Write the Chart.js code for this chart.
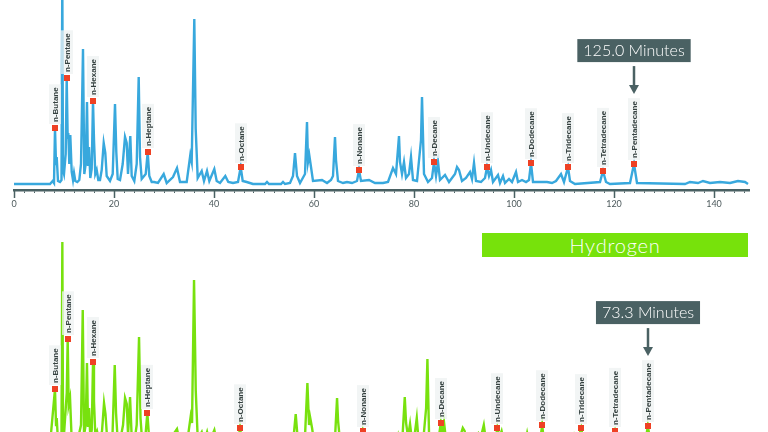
<!DOCTYPE html>
<html>
<head>
<meta charset="utf-8">
<script src="https://cdn.jsdelivr.net/npm/chart.js@4"></script>
<style>
  html, body { margin: 0; padding: 0; width: 768px; height: 432px; overflow: hidden; background: #fff; }
  canvas { position: absolute; left: 0; }
  #helium { top: 0; }
  #hydrogen { top: 236px; }
  .banner {
    position: absolute; left: 482px; top: 233px; width: 266px; height: 24px;
    background: #77e20b; color: #fff; font: 300 20px Lato, sans-serif; letter-spacing: 0.8px;
    text-align: center; line-height: 24px; z-index: 2;
  }
</style>
</head>
<body>
<canvas id="helium" width="768" height="209"></canvas>
<canvas id="hydrogen" width="768" height="234"></canvas>
<div class="banner">Hydrogen</div>
<script>
const SLATE = '#4a6163';
const RED = '#ee4124';
const LABEL = '#34403f';

const compounds = ['n-Butane', 'n-Pentane', 'n-Hexane', 'n-Heptane', 'n-Octane', 'n-Nonane',
  'n-Decane', 'n-Undecane', 'n-Dodecane', 'n-Tridecane', 'n-Tetradecane', 'n-Pentadecane'];

// helium run (minutes / detector signal)
const heliumTime = [
  0, 7.2, 7.74, 8.0, 8.2, 8.4, 8.54, 8.8, 9.2, 9.5,
  9.66, 9.8, 10.0, 10.34, 10.54, 10.74, 10.86, 11.06, 11.26, 11.54,
  11.8, 12.0, 12.26, 12.66, 13.06, 13.4, 13.8, 14.06, 14.34, 14.6,
  14.8, 15.0, 15.26, 15.54, 15.8, 16.0, 16.26, 16.54, 16.86, 17.2,
  17.54, 17.94, 18.26, 18.54, 19.2, 19.74, 20.2, 20.46, 20.74, 21.2,
  21.74, 22.2, 22.54, 22.8, 23.26, 23.54, 24.06, 24.54, 24.94, 25.2,
  25.54, 26.34, 26.74, 27.06, 27.54, 28.0, 28.8, 29.94, 30.54, 31.8,
  32.6, 33.2, 34.54, 35.26, 35.54, 36.06, 36.34, 36.74, 37.54, 38.0,
  38.6, 39.06, 40.06, 40.54, 41.2, 42.26, 42.86, 43.8, 44.8, 45.34,
  45.74, 46.54, 47.8, 50.2, 50.6, 51.0, 53.4, 53.8, 54.2, 55.2,
  55.8, 56.2, 56.6, 57.2, 58.2, 58.6, 58.8, 59.05, 59.4, 59.8,
  61.6, 62.6, 63.4, 63.8, 64.2, 64.4, 64.8, 65.8, 66.6, 67.6,
  68.6, 69.0, 69.4, 71.0, 72.2, 73.8, 74.8, 75.8, 76.4, 77.0,
  77.2, 77.6, 78.0, 78.4, 79.0, 79.4, 79.8, 80.6, 81.4, 81.6,
  82.0, 82.8, 83.6, 84.0, 84.4, 84.8, 85.2, 86.2, 87.0, 88.2,
  88.6, 89.0, 89.6, 90.4, 91.2, 91.6, 92.0, 92.4, 93.4, 94.2,
  94.6, 95.0, 95.4, 95.8, 96.8, 97.2, 97.8, 98.2, 99.0, 99.6,
  100.4, 100.8, 101.6, 102.4, 103.0, 103.4, 103.8, 105.2, 106.6, 107.6,
  108.4, 109.4, 110.0, 110.8, 111.2, 112.2, 117.2, 117.8, 118.4, 119.2,
  123.2, 124.0, 124.6, 134.2, 135.2, 136.8, 137.8, 139.2, 141.2, 143.2,
  144.8, 146.2, 146.8
];
const heliumSignal = [
  0, 0, 3, 1, 56, 20, 27, 3, 2, 4,
  205, 14, 10, 30, 106, 45, 51, 20, 49, 12,
  4, 11, 3, 2, 4, 20, 135, 10, 20, 82,
  18, 37, 6, 15, 83, 44, 10, 14, 4, 4,
  14, 41, 31, 8, 3, 10, 80, 32, 5, 4,
  20, 47, 41, 10, 48, 8, 3, 20, 107, 27,
  5, 10, 32, 8, 2, 2, 1, 10, 1, 7,
  16, 2, 2, 29, 22, 165, 55, 6, 13, 3,
  13, 3, 15, 3, 1, 8, 2, 1, 2, 17,
  3, 2, 0, 0, 2, 0, 0, 2, 0, 1,
  8, 31, 8, 1, 10, 62, 22, 29, 17, 3,
  4, 1, 4, 8, 47, 24, 3, 1, 2, 1,
  3, 14, 3, 4, 1, 1, 2, 16, 10, 48,
  22, 10, 22, 6, 10, 27, 4, 3, 44, 87,
  10, 2, 6, 22, 8, 22, 4, 9, 2, 10,
  17, 14, 3, 6, 12, 5, 21, 3, 2, 6,
  17, 8, 14, 2, 9, 1, 8, 1, 5, 2,
  12, 2, 4, 2, 4, 21, 2, 2, 2, 1,
  3, 10, 2, 17, 3, 0, 2, 13, 2, 0,
  1, 20, 1, 0, 2, 1, 3, 1, 2, 1,
  3, 2, 0
];
const heliumPeakTimes = [8.2, 10.54, 15.8, 26.74, 45.34, 69.0, 84.0, 94.6, 103.4, 110.8, 117.8, 124.0];
const heliumPeakHeights = [56, 106, 83, 32, 17, 14, 22, 17, 21, 17, 13, 20];
const heliumTicks = [0, 20, 40, 60, 80, 100, 120, 140];
const heliumRunTime = '125.0 Minutes';

// hydrogen run
const hydrogenTime = [
  0, 4.16, 4.74, 4.86, 4.94, 5.09, 5.49, 5.59, 5.67, 5.78,
  6.10, 6.21, 6.32, 6.48, 6.65, 6.94, 7.29, 7.75, 7.95, 8.10,
  8.29, 8.44, 8.56, 8.68, 8.83, 8.99, 9.14, 9.25, 9.40, 9.60,
  9.83, 10.18, 10.41, 10.58, 10.76, 11.10, 11.39, 11.65, 11.80, 11.99,
  12.26, 12.61, 12.84, 13.04, 13.19, 13.42, 13.61, 13.92, 14.19, 14.46,
  14.63, 14.81, 15.21, 15.42, 15.62, 15.96, 17.35, 17.66, 18.85, 19.20,
  20.01, 20.44, 20.59, 20.82, 21.02, 21.25, 21.71, 21.98, 22.33, 22.59,
  23.17, 23.45, 24.44, 24.79, 25.9, 26.14, 26.37, 27.65, 32.1, 32.33,
  32.58, 32.79, 33.08, 33.66, 33.93, 34.12, 34.24, 34.47, 34.70, 35.74,
  36.9, 37.13, 37.36, 37.48, 37.71, 40.0, 40.14, 40.34, 40.60, 41.64,
  44.30, 44.45, 44.65, 44.94, 45.19, 45.34, 45.57, 45.80, 46.03, 46.33,
  46.58, 46.79, 47.31, 47.66, 47.81, 48.00, 49.10, 49.36, 49.57, 49.74,
  49.97, 51.65, 51.90, 52.11, 52.41, 53.68, 53.91, 54.33, 54.60, 55.69,
  55.90, 56.16, 56.39, 56.68, 59.1, 59.34, 59.57, 60.85, 61.08, 61.31,
  64.5, 64.78, 65.13, 65.59, 65.88, 69.23, 69.52, 69.87, 72.99, 73.30,
  73.63, 85
];
const hydrogenSignal = [
  0, 0, 56, 20, 27, 3, 4, 203, 14, 10,
  52, 106, 40, 47, 10, 11, 2, 20, 135, 10,
  20, 82, 18, 37, 6, 15, 83, 44, 10, 14,
  4, 14, 42, 31, 8, 3, 10, 80, 32, 5,
  4, 20, 47, 41, 10, 48, 8, 3, 20, 108,
  27, 5, 10, 32, 8, 2, 10, 1, 16, 2,
  2, 29, 22, 165, 54, 6, 13, 3, 13, 3,
  15, 3, 8, 2, 2, 17, 3, 0, 1, 8,
  31, 8, 1, 10, 62, 20, 28, 17, 3, 4,
  2, 8, 47, 24, 3, 1, 3, 14, 3, 4,
  4, 10, 4, 10, 48, 22, 8, 21, 4, 10,
  27, 4, 3, 37, 86, 10, 6, 22, 8, 22,
  4, 10, 17, 14, 3, 12, 5, 20, 3, 6,
  17, 8, 14, 2, 2, 12, 2, 4, 20, 2,
  2, 10, 2, 17, 3, 2, 14, 2, 1, 19,
  1, 0
];
const hydrogenPeakTimes = [4.74, 6.21, 9.14, 15.42, 26.14, 40.34, 49.36, 55.90, 61.08, 65.59, 69.52, 73.30];
const hydrogenPeakHeights = [56, 106, 83, 32, 17, 14, 22, 17, 20, 17, 14, 19];
const hydrogenTicks = [0, 10, 20, 30, 40, 50, 60, 70, 80];
const hydrogenRunTime = '73.3 Minutes';

// longer tick marks at the labelled values
function majorTicks(values) {
  return {
    id: 'majorTicks',
    afterDraw(chart) {
      const { ctx, chartArea, scales: { x } } = chart;
      ctx.save();
      ctx.strokeStyle = SLATE;
      ctx.lineWidth = 1.5;
      values.forEach((v) => {
        const px = Math.round(x.getPixelForValue(v)) + 0.5;
        ctx.beginPath();
        ctx.moveTo(px, chartArea.bottom);
        ctx.lineTo(px, chartArea.bottom + 8);
        ctx.stroke();
      });
      ctx.restore();
    },
  };
}

// compound names, red peak markers and the run-time callout
function peakLabels(times, heights, runTime) {
  return {
    id: 'peakLabels',
    afterDatasetsDraw(chart) {
      const { ctx, scales: { x, y } } = chart;
      ctx.save();
      times.forEach((t, i) => {
        const px = Math.round(x.getPixelForValue(t));
        const py = Math.round(y.getPixelForValue(heights[i]));
        ctx.font = 'bold 8px "Liberation Sans", Arial, sans-serif';
        const w = ctx.measureText(compounds[i]).width;
        const top = py - 6 - w;
        ctx.fillStyle = 'rgba(238,242,242,0.75)';
        ctx.fillRect(px - 6, top - 3, 12, w + 5);
        ctx.save();
        ctx.translate(px, py - 6);
        ctx.rotate(-Math.PI / 2);
        ctx.fillStyle = LABEL;
        ctx.textAlign = 'left';
        ctx.textBaseline = 'middle';
        ctx.fillText(compounds[i], 0, 0.5);
        ctx.restore();
        ctx.fillStyle = RED;
        ctx.fillRect(px - 3, py - 3, 6, 6);

        if (i === times.length - 1) {
          const tip = top - 7;
          const tail = tip - 28;
          ctx.strokeStyle = SLATE;
          ctx.fillStyle = SLATE;
          ctx.lineWidth = 2.5;
          ctx.beginPath();
          ctx.moveTo(px, tail);
          ctx.lineTo(px, tip - 6);
          ctx.stroke();
          ctx.beginPath();
          ctx.moveTo(px - 5, tip - 9);
          ctx.lineTo(px + 5, tip - 9);
          ctx.lineTo(px, tip);
          ctx.closePath();
          ctx.fill();
          ctx.font = '300 16px Lato, sans-serif';
          const bw = ctx.measureText(runTime).width + 12;
          const bBottom = tail - 4;
          ctx.fillRect(px - bw / 2, bBottom - 23, bw, 23);
          ctx.fillStyle = '#fff';
          ctx.textAlign = 'center';
          ctx.textBaseline = 'middle';
          ctx.fillText(runTime, px, bBottom - 11);
        }
      });
      ctx.restore();
    },
  };
}

function drawRun(id, times, signal, color, xMax, yMax, minorStep, ticks, peakTimes, peakHeights, runTime) {
  new Chart(document.getElementById(id), {
    type: 'line',
    data: {
      datasets: [{
        data: times.map((t, i) => ({ x: t, y: signal[i] })),
        borderColor: color,
        borderWidth: 2.4,
        pointRadius: 0,
        tension: 0,
        fill: false,
      }],
    },
    options: {
      responsive: false,
      animation: false,
      layout: { padding: { left: 14, right: 19, top: 0, bottom: 0 } },
      plugins: { legend: { display: false }, tooltip: { enabled: false } },
      scales: {
        x: {
          type: 'linear',
          min: 0,
          max: xMax,
          afterFit: (s) => { s.height = 19; },
          border: { color: SLATE, width: 2.5 },
          grid: { drawOnChartArea: false, drawTicks: true, tickLength: 3, color: SLATE, lineWidth: 1 },
          ticks: {
            stepSize: minorStep,
            autoSkip: false,
            includeBounds: false,
            maxRotation: 0,
            padding: 6,
            color: '#4d5a5c',
            font: { family: 'Lato', size: 9 },
            callback: (v) => (ticks.includes(v) ? String(v) : ''),
          },
        },
        y: { display: false, min: -6, max: yMax },
      },
    },
    plugins: [majorTicks(ticks), peakLabels(peakTimes, peakHeights, runTime)],
  });
}

drawRun('helium', heliumTime, heliumSignal, '#38a8dd', 147, 184, 2, heliumTicks,
  heliumPeakTimes, heliumPeakHeights, heliumRunTime);
drawRun('hydrogen', hydrogenTime, hydrogenSignal, '#78e10e', 85, 209, 1, hydrogenTicks,
  hydrogenPeakTimes, hydrogenPeakHeights, hydrogenRunTime);
</script>
</body>
</html>
